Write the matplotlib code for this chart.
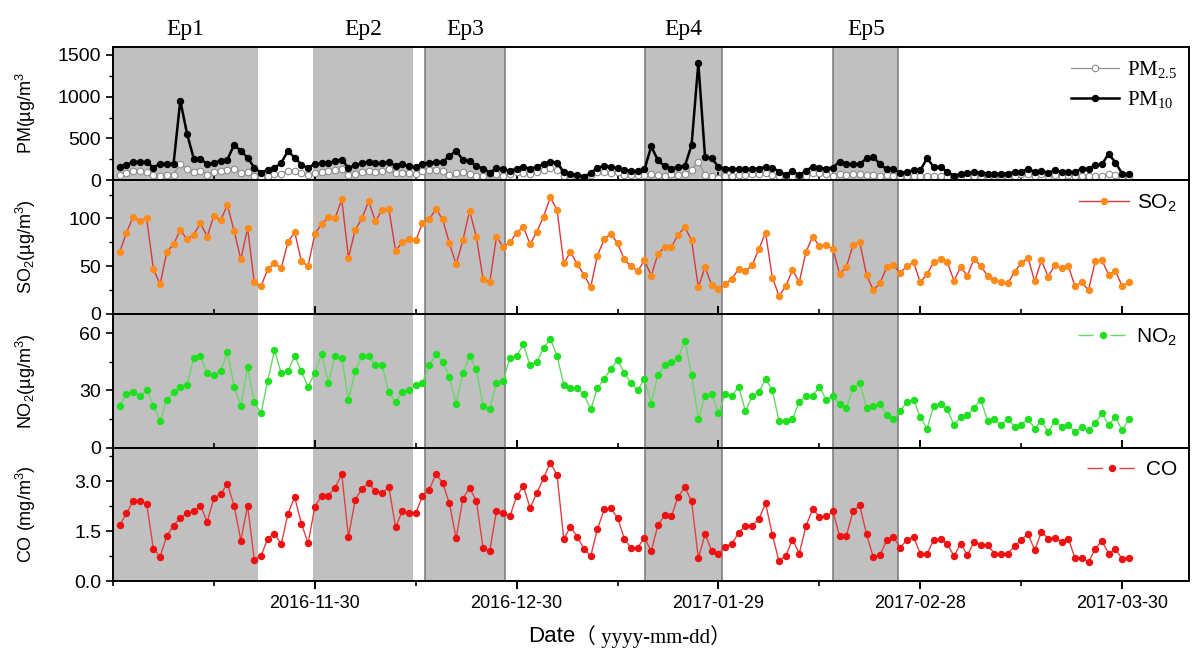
import numpy as np
import pandas as pd
import matplotlib
matplotlib.use('Agg')
import matplotlib.pyplot as plt
from matplotlib.dates import DateFormatter
from matplotlib.lines import Line2D
from matplotlib.ticker import MultipleLocator, FormatStrFormatter

plt.rcParams['font.family'] = ['Liberation Sans', 'Noto Sans CJK SC', 'DejaVu Sans']

# daily values, 2016-11-01 .. 2017-03-31
dates = pd.date_range('2016-11-01', '2017-03-31', freq='D')

pm10 = [163, 183, 219, 219, 219, 151, 199, 199, 199, 954, 557, 258, 258, 191, 211,
        231, 246, 425, 350, 270, 151, 87, 127, 147, 207, 350, 270, 187, 143, 199,
        203, 203, 231, 246, 147, 179, 203, 223, 203, 203, 219, 171, 191, 167, 159,
        191, 211, 219, 219, 290, 350, 246, 231, 171, 139, 91, 143, 131, 111, 139,
        163, 131, 163, 191, 223, 211, 99, 80, 64, 44, 83, 151, 167, 159, 143,
        123, 111, 111, 131, 405, 238, 167, 139, 159, 171, 421, 1403, 278, 262, 159,
        139, 139, 131, 131, 139, 139, 159, 151, 103, 68, 111, 60, 111, 163, 143,
        139, 151, 223, 191, 191, 191, 262, 282, 191, 131, 131, 87, 99, 119, 119,
        262, 159, 159, 99, 52, 80, 87, 99, 87, 80, 80, 80, 80, 99, 99,
        139, 99, 115, 87, 119, 99, 99, 99, 139, 139, 179, 191, 318, 211, 80, 76]

pm25 = [68, 91, 111, 111, 103, 60, 56, 68, 68, 199, 135, 103, 111, 68, 103,
        111, 123, 135, 91, 99, 56, 40, 52, 72, 72, 115, 111, 91, 64, 83,
        103, 115, 123, 131, 64, 80, 103, 107, 103, 107, 135, 83, 83, 87, 72,
        107, 127, 127, 111, 64, 87, 95, 80, 56, 48, 72, 72, 56, 80, 99,
        91, 80, 103, 123, 151, 119, 56, 52, 48, 36, 60, 95, 103, 87, 103,
        64, 60, 60, 64, 80, 68, 56, 76, 68, 80, 127, 219, 64, 52, 32,
        56, 56, 68, 68, 76, 72, 91, 68, 52, 40, 56, 40, 56, 83, 83,
        72, 56, 72, 68, 72, 72, 68, 68, 56, 60, 56, 48, 48, 48, 56,
        48, 48, 56, 40, 32, 40, 40, 48, 48, 48, 48, 48, 40, 56, 72,
        80, 56, 72, 56, 64, 56, 60, 48, 52, 52, 52, 56, 80, 64, 40, 40]

so2 = [65, 85, 102, 97, 100, 47, 31, 65, 73, 88, 78, 83, 95, 81, 103,
       98, 114, 87, 57, 90, 33, 29, 47, 53, 48, 75, 86, 55, 50, 84,
       94, 101, 100, 120, 59, 88, 100, 118, 97, 109, 110, 66, 75, 78, 77,
       95, 99, 110, 99, 74, 52, 77, 108, 81, 37, 33, 81, 70, 75, 85,
       91, 73, 86, 102, 122, 109, 53, 65, 52, 41, 28, 61, 78, 84, 74,
       57, 50, 45, 56, 40, 63, 70, 70, 83, 91, 77, 28, 49, 30, 26,
       31, 37, 47, 45, 51, 68, 85, 38, 19, 29, 46, 33, 65, 81, 71,
       72, 68, 42, 49, 72, 75, 41, 25, 32, 49, 51, 43, 50, 54, 33,
       42, 54, 57, 54, 35, 49, 40, 58, 50, 40, 36, 33, 32, 44, 53,
       59, 34, 56, 39, 51, 48, 50, 29, 33, 25, 55, 56, 41, 45, 29, 33]

no2 = [22, 28, 29, 27, 30, 22, 14, 25, 29, 32, 33, 47, 48, 39, 38,
       40, 50, 32, 22, 42, 24, 18, 35, 51, 39, 40, 48, 40, 32, 39,
       49, 34, 48, 47, 25, 40, 48, 48, 43, 43, 29, 24, 29, 30, 33,
       34, 43, 49, 45, 37, 23, 39, 48, 41, 22, 20, 34, 35, 47, 48,
       54, 43, 45, 52, 57, 48, 33, 31, 31, 28, 20, 31, 36, 41, 46,
       39, 34, 30, 36, 23, 38, 43, 45, 47, 56, 38, 15, 27, 28, 18,
       28, 27, 32, 19, 27, 29, 36, 30, 14, 14, 15, 24, 27, 27, 32,
       25, 27, 23, 21, 31, 34, 21, 22, 23, 17, 15, 19, 24, 25, 16,
       10, 22, 23, 20, 12, 16, 17, 21, 25, 14, 15, 12, 15, 11, 12,
       15, 10, 14, 8, 14, 11, 12, 8, 11, 9, 13, 18, 12, 16, 9, 15]

co = [1.68, 2.03, 2.41, 2.41, 2.32, 0.97, 0.74, 1.36, 1.67, 1.90, 2.04, 2.10, 2.26, 1.78, 2.49,
      2.61, 2.92, 2.26, 1.22, 2.26, 0.65, 0.76, 1.28, 1.43, 1.11, 2.02, 2.52, 1.73, 1.14, 2.23,
      2.56, 2.56, 2.80, 3.21, 1.33, 2.44, 2.77, 2.94, 2.70, 2.64, 2.82, 1.62, 2.10, 2.04, 2.04,
      2.55, 2.74, 3.21, 2.95, 2.33, 1.29, 2.47, 2.80, 2.41, 1.01, 0.91, 2.11, 2.04, 1.95, 2.55,
      2.85, 2.19, 2.64, 3.09, 3.55, 3.18, 1.27, 1.63, 1.33, 0.98, 0.75, 1.56, 2.15, 2.18, 1.90,
      1.28, 0.99, 1.01, 1.31, 0.90, 1.68, 1.98, 1.95, 2.53, 2.81, 2.40, 0.69, 1.41, 0.91, 0.81,
      1.04, 1.12, 1.45, 1.67, 1.67, 1.86, 2.33, 1.40, 0.60, 0.77, 1.25, 0.83, 1.65, 2.17, 1.93,
      1.94, 2.09, 1.36, 1.36, 2.10, 2.27, 1.41, 0.73, 0.78, 1.23, 1.32, 1.01, 1.23, 1.34, 0.82,
      0.82, 1.24, 1.27, 1.13, 0.75, 1.13, 0.79, 1.18, 1.09, 1.09, 0.83, 0.83, 0.83, 1.05, 1.24,
      1.42, 0.93, 1.48, 1.28, 1.31, 1.17, 1.28, 0.69, 0.71, 0.57, 0.98, 1.21, 0.83, 0.97, 0.67, 0.71]

# pollution episodes (shaded)
ep_names = ['Ep1', 'Ep2', 'Ep3', 'Ep4', 'Ep5']
ep_start = ['2016-10-31', '2016-11-29 18:00', '2016-12-16 10:00', '2017-01-18 02:00', '2017-02-15 02:00']
ep_end = ['2016-11-21 12:00', '2016-12-14 14:00', '2016-12-28 05:00', '2017-01-29 12:00', '2017-02-24 17:00']

major_dates = ['2016-11-30', '2016-12-30', '2017-01-29', '2017-02-28', '2017-03-30']

fig, axes = plt.subplots(4, 1, sharex=True, figsize=(11.96, 6.6), dpi=100)
fig.subplots_adjust(left=0.0945, right=0.9945, top=0.9295, bottom=0.1192, hspace=0)
ax_pm, ax_so2, ax_no2, ax_co = axes

# shaded episodes in every panel
for ax in axes:
    for i in range(len(ep_names)):
        edge = '#808080' if i >= 2 else 'none'
        ax.axvspan(pd.Timestamp(ep_start[i]), pd.Timestamp(ep_end[i]), facecolor='#c0c0c0',
                   edgecolor=edge, lw=1.2, zorder=0)

for i in range(len(ep_names)):
    mid = pd.Timestamp(ep_start[i]) + (pd.Timestamp(ep_end[i]) - pd.Timestamp(ep_start[i])) / 2
    ax_pm.text(mid, 1.13, ep_names[i], transform=ax_pm.get_xaxis_transform(),
               ha='center', va='center', fontsize=17, family='Liberation Serif')

ms = 4.3
ax_pm.plot(dates, pm25, color='#8c8c8c', lw=0.8, marker='o', ms=ms + 0.4, mfc='white',
           mec='#8c8c8c', mew=0.8, label=r'$\mathregular{PM_{2.5}}$', zorder=3)
ax_pm.plot(dates, pm10, color='black', lw=1.8, marker='o', ms=ms, mfc='black',
           mec='black', label=r'$\mathregular{PM_{10}}$', zorder=4)
ax_so2.plot(dates, so2, color='#d83a3a', lw=1.0, marker='o', ms=ms, mfc='#ff8c1a',
            mec='#ff8c1a', zorder=3)
ax_no2.plot(dates, no2, color='#66d866', lw=1.0, marker='o', ms=ms, mfc='#1fe01f',
            mec='#1fe01f', zorder=3)
ax_co.plot(dates, co, color='#e04040', lw=1.0, marker='o', ms=ms, mfc='#ee1111',
           mec='#ee1111', zorder=3)

ax_pm.legend(loc='upper right', frameon=False, prop={'family': 'Liberation Serif', 'size': 15},
             handlelength=2.3, labelspacing=0.45, borderaxespad=0.2, handletextpad=0.4)

# legend handles drawn like the original (SO2 solid, NO2 / CO broken around the marker)
h_so2 = Line2D([], [], color='#d83a3a', lw=1.0, marker='o', ms=ms, mfc='#ff8c1a', mec='#ff8c1a')
h_no2 = Line2D([], [], color='#66d866', lw=1.0, ls=(0, (11, 12)), marker='o', ms=ms,
               mfc='#1fe01f', mec='#1fe01f')
h_co = Line2D([], [], color='#e04040', lw=1.0, ls=(0, (11, 12)), marker='o', ms=ms,
              mfc='#ee1111', mec='#ee1111')
for ax, h, lab in [(ax_so2, h_so2, r'SO$\mathregular{_2}$'),
                   (ax_no2, h_no2, r'NO$\mathregular{_2}$'),
                   (ax_co, h_co, 'CO')]:
    ax.legend([h], [lab], loc='upper right', frameon=False, fontsize=15, handlelength=2.4,
              borderaxespad=0.2, handletextpad=0.4)

# y axes
ax_pm.set_ylim(0, 1600)
ax_pm.yaxis.set_major_locator(MultipleLocator(500))
ax_pm.yaxis.set_minor_locator(MultipleLocator(250))
ax_so2.set_ylim(0, 140)
ax_so2.yaxis.set_major_locator(MultipleLocator(50))
ax_so2.yaxis.set_minor_locator(MultipleLocator(25))
ax_no2.set_ylim(0, 70)
ax_no2.yaxis.set_major_locator(MultipleLocator(30))
ax_no2.yaxis.set_minor_locator(MultipleLocator(15))
ax_co.set_ylim(0, 4)
ax_co.yaxis.set_major_locator(MultipleLocator(1.5))
ax_co.yaxis.set_minor_locator(MultipleLocator(0.75))
ax_co.yaxis.set_major_formatter(FormatStrFormatter('%.1f'))

ax_pm.set_ylabel(r'PM(µg/m$\mathregular{^3}$', fontsize=13)
ax_so2.set_ylabel(r'SO$\mathregular{_2}$(µg/m$\mathregular{^3}$)', fontsize=13)
ax_no2.set_ylabel(r'NO$\mathregular{_2}$(µg/m$\mathregular{^3}$)', fontsize=13)
ax_co.set_ylabel(r'CO (mg/m$\mathregular{^3}$)', fontsize=13)

# x axis
ax_co.set_xlim(pd.Timestamp('2016-10-31'), pd.Timestamp('2017-04-09'))
major = [pd.Timestamp(d) for d in major_dates]
minor = list(pd.date_range('2016-10-31', '2017-04-01', freq='15D'))
ax_co.set_xticks(major)
ax_co.set_xticks(minor, minor=True)
ax_co.xaxis.set_major_formatter(DateFormatter('%Y-%m-%d'))

for ax in axes:
    for s in ax.spines.values():
        s.set_linewidth(1.4)
    ax.yaxis.set_label_coords(-0.07, 0.5)
    ax.tick_params(axis='y', which='major', direction='out', length=5, width=1.2, labelsize=14)
    ax.tick_params(axis='y', which='minor', direction='out', length=3, width=1.0)
    ax.tick_params(axis='x', which='major', direction='in', length=6, width=1.4)
    ax.tick_params(axis='x', which='minor', direction='in', length=3.5, width=1.2)
ax_co.tick_params(axis='x', which='both', direction='out', labelsize=13)

fig.text(0.481, 0.035, 'Date', ha='right', va='center', fontsize=16)
fig.text(0.481, 0.035, '（ yyyy-mm-dd）', ha='left', va='center', fontsize=15,
         family=['Liberation Serif', 'Noto Sans CJK SC'])

fig.savefig('out.png', dpi=100)
